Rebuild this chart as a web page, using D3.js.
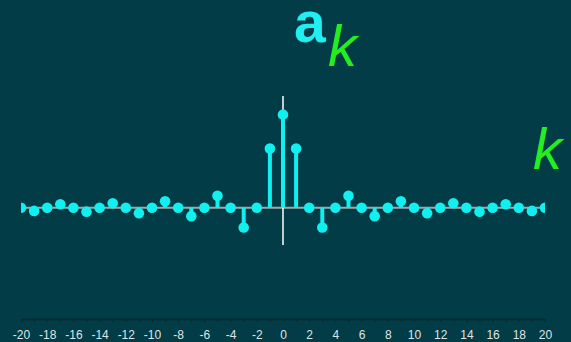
<!DOCTYPE html>
<html><head><meta charset="utf-8">
<script src="https://cdn.jsdelivr.net/npm/d3@7"></script>
<style>html,body{margin:0;padding:0;background:#023c46;overflow:hidden}</style>
</head><body><svg id="c" width="571" height="342"></svg>
<script>
const ks = d3.range(-20, 21);
const posValues = [0.5, 0.318, 0, -0.106, 0, 0.064, 0, -0.045, 0, 0.035, 0, -0.029, 0, 0.024, 0, -0.021, 0, 0.019, 0, -0.017, 0];
const values = ks.map(k => posValues[Math.abs(k)]);
const tickLabels = d3.range(-20, 21, 2);

const svg = d3.select("#c");
svg.append("rect").attr("width",571).attr("height",342).attr("fill","#023c46");
const x = d3.scaleLinear().domain([-20,20]).range([21,545]);
const y = d3.scaleLinear().domain([-0.2,0.6]).range([245,96]);
const cyan = "#10f0f0";

svg.append("defs").append("clipPath").attr("id","cl").append("rect")
  .attr("x",x(-20)).attr("y",80).attr("width",x(20)-x(-20)).attr("height",180);

const g = svg.append("g").attr("clip-path","url(#cl)");
g.append("line").attr("x1",x(-20)).attr("x2",x(20)).attr("y1",y(0)).attr("y2",y(0))
  .attr("stroke","#a0a8a8").attr("stroke-width",2);
g.append("line").attr("x1",x(0)).attr("x2",x(0)).attr("y1",y(0.6)).attr("y2",y(-0.2))
  .attr("stroke","#ffffff").attr("stroke-width",1.5);
g.selectAll("line.stem").data(ks).join("line").attr("class","stem")
  .attr("x1",k=>x(k)).attr("x2",k=>x(k)).attr("y1",y(0)).attr("y2",(k,i)=>y(values[i]))
  .attr("stroke",cyan).attr("stroke-width",4);
g.selectAll("circle").data(ks).join("circle")
  .attr("cx",k=>x(k)).attr("cy",(k,i)=>y(values[i])).attr("r",5.3).attr("fill",cyan);

// bottom axis
const axis = d3.axisBottom(x).tickValues(d3.range(-20,21)).tickSize(3).tickSizeOuter(0)
  .tickFormat(d => tickLabels.includes(d) ? d : "");
const ag = svg.append("g").attr("transform","translate(0,319)").call(axis);
ag.select(".domain").attr("stroke","#10252a").attr("stroke-width",1.5);
ag.selectAll(".tick line").attr("stroke","#10252a");
ag.selectAll(".tick text").attr("fill","#dfe4e4").attr("font-family","Liberation Sans, Arial, sans-serif")
  .attr("font-size",12).attr("dy","1.2em");

// titles
svg.append("text").attr("x",294).attr("y",42).text("a").attr("fill","#20eef0")
  .attr("font-family","Liberation Sans, Arial, sans-serif").attr("font-weight","bold").attr("font-size",57);
svg.append("text").attr("x",328).attr("y",66).text("k").attr("fill","#22ee22")
  .attr("font-family","Liberation Sans, Arial, sans-serif").attr("font-style","italic").attr("font-size",58);
svg.append("text").attr("x",533).attr("y",169).text("k").attr("fill","#22ee22")
  .attr("font-family","Liberation Sans, Arial, sans-serif").attr("font-style","italic").attr("font-size",58);
</script></body></html>
